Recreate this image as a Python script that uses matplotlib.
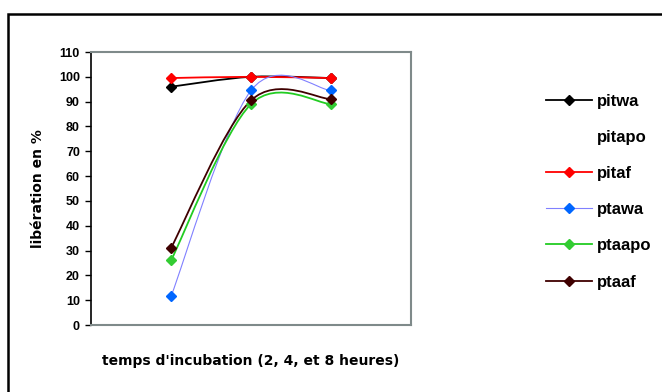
import matplotlib
matplotlib.use("Agg")
import matplotlib.pyplot as plt
from matplotlib.path import Path
from matplotlib.patches import PathPatch, Rectangle
from matplotlib.lines import Line2D

plt.rcParams['font.family'] = ['Liberation Sans', 'DejaVu Sans']

hours = ["2", "4", "8"]
x_pos = [1, 2, 3]
pitwa = [96, 100, 99.5]
pitapo = [None, None, None]
pitaf = [99.5, 100, 99.5]
ptawa = [11.5, 94.5, 94.5]
ptaapo = [26, 89, 89]
ptaaf = [31, 90.5, 91]

series = [
    ("pitwa", pitwa, "#000000", 1.3),
    ("pitapo", pitapo, None, 1.3),
    ("pitaf", pitaf, "#ff0000", 1.3),
    ("ptawa", ptawa, "#8080ff", 0.8),
    ("ptaapo", ptaapo, "#22cc22", 1.3),
    ("ptaaf", ptaaf, "#3f0000", 1.3),
]
marker_colors = {"ptawa": "#0066ff", "ptaapo": "#33cc33"}

fig = plt.figure(figsize=(6.62, 3.92), dpi=100)
ax = fig.add_axes([91/662, 1-325/392, 320/662, 273/392])


def smooth_path(xs, ys):
    pts = list(zip(xs, ys))
    n = len(pts)
    verts = [pts[0]]
    codes = [Path.MOVETO]
    for i in range(n - 1):
        p0 = pts[i - 1] if i > 0 else pts[i]
        p1 = pts[i]
        p2 = pts[i + 1]
        p3 = pts[i + 2] if i + 2 < n else pts[i + 1]
        c1 = (p1[0] + (p2[0] - p0[0]) / 6, p1[1] + (p2[1] - p0[1]) / 6)
        c2 = (p2[0] - (p3[0] - p1[0]) / 6, p2[1] - (p3[1] - p1[1]) / 6)
        verts += [c1, c2, p2]
        codes += [Path.CURVE4] * 3
    return Path(verts, codes)


handles = []
for name, vals, color, lw in series:
    if color is None:
        handles.append(Line2D([], [], linestyle='none', marker=None, color='none'))
        continue
    mc = marker_colors.get(name, color)
    patch = PathPatch(smooth_path(x_pos, vals), facecolor='none', edgecolor=color,
                      lw=lw, zorder=3)
    ax.add_patch(patch)
    ax.plot(x_pos, vals, linestyle='none', marker='D', markersize=5.5,
            color=mc, zorder=4)
    handles.append(Line2D([], [], color=color, lw=lw, marker='D', markersize=5.5,
                          markerfacecolor=mc, markeredgecolor=mc))

ax.set_xlim(0, 4)
ax.set_ylim(0, 110)
ax.set_yticks(range(0, 111, 10))
ax.set_xticks([])
for s in ['top', 'right', 'bottom']:
    ax.spines[s].set_color('#7f8a8a')
    ax.spines[s].set_linewidth(1.5)
ax.spines['left'].set_color('#000000')
ax.spines['left'].set_linewidth(1.2)
ax.tick_params(axis='y', direction='out', length=4, width=1, pad=4,
               labelsize=9)
for lab in ax.get_yticklabels():
    lab.set_fontweight('bold')

ax.set_ylabel("libération en %", fontsize=10, fontweight='bold', labelpad=10,
              family=['DejaVu Sans'])
ax.set_xlabel("temps d'incubation (2, 4, et 8 heures)", fontsize=10,
              fontweight='bold', labelpad=21, family=['DejaVu Sans'])

fig.legend(handles, [s[0] for s in series], loc='upper left',
           bbox_to_anchor=(539/662, 1-87/392), frameon=False,
           prop={'size': 12, 'weight': 'bold', 'family': ['Liberation Sans']},
           handlelength=2.8, handletextpad=0.3,
           labelspacing=1.27, borderaxespad=0)

fig.patches.append(Rectangle((8/662, -0.1), 1.0, 1 - 14/392 + 0.1,
                             transform=fig.transFigure, fill=False,
                             edgecolor='black', lw=1.8))

fig.savefig("out.png", dpi=100)
